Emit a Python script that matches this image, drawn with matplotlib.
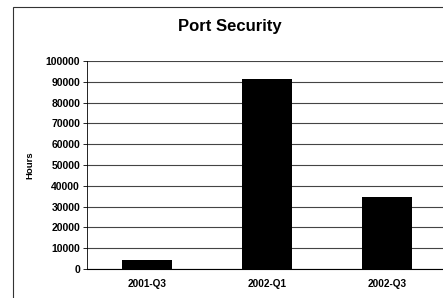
import numpy as np
import matplotlib.pyplot as plt
from matplotlib.patches import Rectangle

quarters = ['2001-Q3', '2002-Q1', '2002-Q3']
hours = [4500, 91500, 34500]
yticks = list(range(0, 100001, 10000))

W, H = 443, 298
fig = plt.figure(figsize=(W / 100, H / 100), dpi=100)
fig.patch.set_facecolor('white')

# outer chart frame (runs off the right/bottom of the picture)
fig.patches.append(Rectangle((13 / W, -0.05), 1.2, (H - 7) / H + 0.05,
                             transform=fig.transFigure, fill=False,
                             edgecolor='#333333', linewidth=0.8))

ax = fig.add_axes([87 / W, 1 - 269 / H, 360 / W, 208 / H])
x = np.arange(len(quarters))
ax.bar(x, hours, width=0.42, color='black', zorder=3)

ax.set_xlim(-0.5, 2.5)
ax.set_ylim(0, 100000)
ax.set_yticks(yticks)
ax.set_yticklabels([str(v) for v in yticks], fontsize=7.5,
                   fontfamily='Liberation Sans', fontweight='bold')
ax.set_xticks(x)
ax.set_xticklabels(quarters, fontsize=7.2, fontfamily='Liberation Sans',
                   fontweight='bold')
ax.tick_params(axis='y', length=3, width=0.6, pad=2)
ax.tick_params(axis='x', length=0, pad=7)
ax.grid(axis='y', color='#444444', linewidth=0.8, zorder=0)
for s in ['top', 'right']:
    ax.spines[s].set_visible(False)
ax.spines['left'].set_linewidth(0.6)
ax.spines['bottom'].set_linewidth(0.8)
ax.set_ylabel('Hours', fontsize=6.8, fontfamily='Liberation Sans',
              fontweight='bold', labelpad=8)

fig.text(230 / W, 1 - 27 / H, 'Port Security', ha='center', va='center',
         fontsize=12, fontweight='bold', fontfamily='Liberation Sans')

fig.savefig('out.png', dpi=100)
